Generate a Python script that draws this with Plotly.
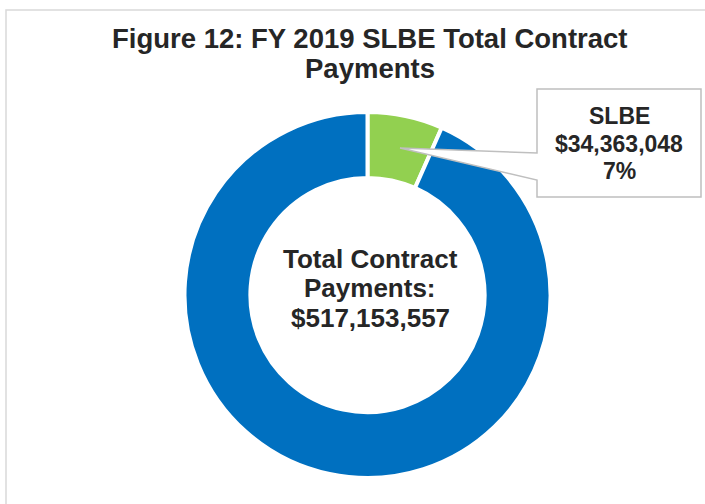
import plotly.graph_objects as go

# -- chart data --
labels = ["SLBE", "Non-SLBE"]
payments = [34363048, 482790509]
total_label = "$517,153,557"
slbe_label = "$34,363,048"
slbe_share = "7%"

COLOURS = {
    "slbe": "#92D050",
    "other": "#0070C0",
    "text": "#262626",
    "frame": "#D9D9D9",
    "callout": "#BFBFBF",
}

W, H = 705, 504
FONT = "Liberation Sans, Arial, sans-serif"


def px(x):
    return x / W


def py(y):
    return 1 - y / H


fig = go.Figure(go.Pie(
    labels=labels,
    values=payments,
    hole=0.64,
    sort=False,
    direction="clockwise",
    rotation=0,
    textinfo="none",
    hoverinfo="label+value+percent",
    marker=dict(colors=[COLOURS["slbe"], COLOURS["other"]],
                line=dict(color="white", width=4)),
    domain=dict(x=[px(184), px(551)], y=[py(478), py(112)]),
    showlegend=False,
))

# frame around the chart area (right and bottom edges fall outside the picture)
fig.add_shape(type="rect", xref="paper", yref="paper",
              x0=px(6), y0=py(10), x1=px(760), y1=py(560),
              line=dict(color=COLOURS["frame"], width=1.5), layer="below")

# callout box with wedge pointing into the SLBE slice
callout_path = (
    f"M {px(537)},{py(89)} L {px(701)},{py(89)} L {px(701)},{py(197)} "
    f"L {px(537)},{py(197)} L {px(537)},{py(180)} L {px(400)},{py(148)} "
    f"L {px(537)},{py(153)} Z"
)
fig.add_shape(type="path", xref="paper", yref="paper", path=callout_path,
              fillcolor="white", line=dict(color=COLOURS["callout"], width=1.5),
              layer="above")


def add_text(text, x, y, size):
    fig.add_annotation(text=text, x=px(x), y=py(y), xref="paper", yref="paper",
                       xanchor="center", yanchor="middle", showarrow=False,
                       font=dict(family=FONT, size=size, color=COLOURS["text"],
                                 weight="bold"))


# title
add_text("Figure 12: FY 2019 SLBE Total Contract", 370, 39, 27.5)
add_text("Payments", 370, 69, 27.5)

# centre of the donut
add_text("Total Contract", 370, 259, 26)
add_text("Payments:", 370, 288, 26)
add_text(total_label, 370, 318, 26)

# callout text
add_text("SLBE", 619, 116, 23)
add_text(slbe_label, 619, 144, 23)
add_text(slbe_share, 619, 171, 23)

fig.update_layout(
    width=W, height=H,
    margin=dict(l=0, r=0, t=0, b=0),
    paper_bgcolor="white",
    plot_bgcolor="white",
)

# drop the page's default body margin so the figure sits at the window origin
fig.write_html("out.html", config={"displayModeBar": False},
               post_script="document.body.style.margin = '0';")
